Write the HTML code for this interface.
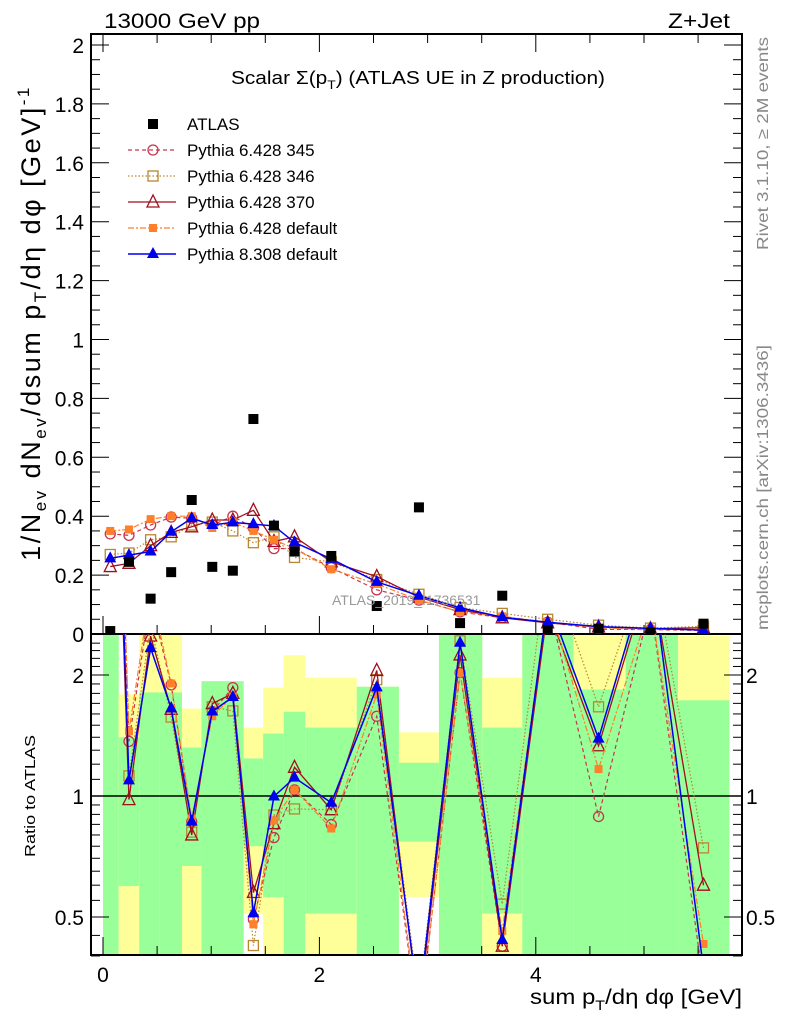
<!DOCTYPE html>
<html><head><meta charset="utf-8"><style>
html,body{margin:0;padding:0;background:#fff;}
svg{display:block;font-family:"Liberation Sans",sans-serif;}
</style></head><body>
<svg id="chart" width="786" height="1024" viewBox="0 0 786 1024" xmlns="http://www.w3.org/2000/svg">
<defs>
<clipPath id="clipMain"><rect x="91" y="34" width="651" height="600"/></clipPath>
<clipPath id="clipRatio"><rect x="91" y="634" width="651" height="321"/></clipPath>
</defs>
<g id="bands" clip-path="url(#clipRatio)"></g>
<g id="axes"></g>
<g id="seriesMain" clip-path="url(#clipMain)"></g>
<g id="seriesRatio" clip-path="url(#clipRatio)"></g>
<text x="104" y="28" font-size="21" textLength="156" lengthAdjust="spacingAndGlyphs">13000 GeV pp</text>
<text x="730" y="28" font-size="21" text-anchor="end" textLength="62" lengthAdjust="spacingAndGlyphs">Z+Jet</text>
<text x="231" y="84" font-size="18" textLength="374" lengthAdjust="spacingAndGlyphs">Scalar Σ(p<tspan font-size="12" dy="5">T</tspan><tspan dy="-5">) (ATLAS UE in Z production)</tspan></text>
<text x="332" y="605" font-size="14" fill="#999">ATLAS_2019_I1736531</text>
<text transform="translate(768,250) rotate(-90)" font-size="16" fill="#888" textLength="213" lengthAdjust="spacingAndGlyphs">Rivet 3.1.10, ≥ 2M events</text>
<text transform="translate(768,630) rotate(-90)" font-size="16" fill="#888" textLength="285" lengthAdjust="spacingAndGlyphs">mcplots.cern.ch [arXiv:1306.3436]</text>
<text transform="translate(40,323) rotate(-90)" font-size="27" text-anchor="middle" style="letter-spacing:2.5px">1/N<tspan font-size="17" dy="6">ev</tspan><tspan dy="-6"> dN</tspan><tspan font-size="17" dy="6">ev</tspan><tspan dy="-6">/dsum p</tspan><tspan font-size="17" dy="6">T</tspan><tspan dy="-6">/dη dφ  [GeV]</tspan><tspan font-size="17" dy="-11">-1</tspan></text>
<text transform="translate(35,857) rotate(-90)" font-size="15" textLength="122" lengthAdjust="spacingAndGlyphs">Ratio to ATLAS</text>
<text x="742" y="1004" font-size="21" text-anchor="end" textLength="212" lengthAdjust="spacingAndGlyphs">sum p<tspan font-size="14" dy="6">T</tspan><tspan dy="-6">/dη dφ [GeV]</tspan></text>
<g id="legend"></g>
</svg>
<script>
const xs = [0.067,0.24,0.44,0.63,0.82,1.01,1.20,1.39,1.58,1.77,2.11,2.53,2.92,3.30,3.69,4.11,4.58,5.06,5.55];
const binEdges = [0,0.145,0.335,0.525,0.73,0.91,1.1,1.3,1.48,1.67,1.87,2.345,2.735,3.105,3.505,3.875,4.35,4.83,5.315,5.79];
const atlas = [0.010,0.245,0.12,0.21,0.455,0.228,0.215,0.73,0.368,0.28,0.265,0.095,0.43,0.037,0.13,0.013,0.018,0.005,0.035];
const p345 = [0.34,0.335,0.37,0.397,0.393,0.37,0.40,0.36,0.29,0.29,0.225,0.15,0.115,0.075,0.055,0.04,0.016,0.015,0.012];
const p346 = [0.27,0.275,0.32,0.33,0.37,0.38,0.35,0.31,0.33,0.26,0.245,0.185,0.135,0.09,0.07,0.05,0.03,0.02,0.026];
const p370 = [0.229,0.24,0.30,0.345,0.364,0.387,0.387,0.42,0.314,0.33,0.245,0.195,0.125,0.083,0.055,0.038,0.024,0.018,0.021];
const pdef6 = [0.35,0.355,0.39,0.40,0.40,0.36,0.38,0.35,0.32,0.29,0.22,0.17,0.115,0.075,0.06,0.04,0.021,0.015,0.015];
const p8 = [0.257,0.268,0.28,0.347,0.393,0.37,0.379,0.373,0.367,0.311,0.255,0.177,0.13,0.089,0.057,0.040,0.025,0.019,0.013];
const yelTop = [3,1.79,3,3,1.65,1.93,1.93,1.48,1.86,2.24,1.97,1.87,1.44,3,1.97,3,3,3,2.5];
const grnTop = [3,1.40,1.81,1.81,1.32,1.93,1.93,1.24,1.43,1.62,1.48,1.87,1.21,3,1.48,3,1.84,3,1.73];
const grnBot = [0.3,0.597,0.3,0.3,0.67,0.3,0.3,0.75,0.56,0.3,0.51,0.3,0.77,0.3,0.51,0.3,0.3,0.3,0.3];
const yelBot = [0.3,0.3,0.3,0.3,0.3,0.3,0.3,0.51,0.3,0.3,0.3,0.3,0.56,0.3,0.3,0.3,0.3,0.3,0.3];
const mainTicks = [0,0.2,0.4,0.6,0.8,1,1.2,1.4,1.6,1.8,2];
const mainTickLabels = ["0","0.2","0.4","0.6","0.8","1","1.2","1.4","1.6","1.8","2"];
const xTickLabels = ["0","2","4"];
const xTickVals = [0,2,4];
const ratioTickVals = [0.5,1,2];
const ratioTickLabels = ["0.5","1","2"];

const NS="http://www.w3.org/2000/svg";
const X = v => 103 + v*108.2;
const Y = v => 634 - v*294.5;
const R = r => 796 - Math.log10(r)*402;
function mk(tag, attrs, parent){const e=document.createElementNS(NS,tag);for(const k in attrs)e.setAttribute(k,attrs[k]);parent.appendChild(e);return e;}

const bands=document.getElementById('bands');
for(let i=0;i<xs.length;i++){
  const x0=X(binEdges[i]), w=X(binEdges[i+1])-x0;
  const y1=mk('rect',{x:x0,y:R(yelTop[i]),width:w,height:R(yelBot[i])-R(yelTop[i]),fill:'#ffff99'},bands);
  
  
  const g1=mk('rect',{x:x0,y:R(grnTop[i]),width:w,height:R(grnBot[i])-R(grnTop[i]),fill:'#99ff99'},bands);
  
  
}

const ax=document.getElementById('axes');
const fr1=mk('rect',{x:91,y:34,width:651,height:600,fill:'none',stroke:'#000','stroke-width':2},ax);


const fr2=mk('rect',{x:91,y:634,width:651,height:321,fill:'none',stroke:'#000','stroke-width':2},ax);


const one=mk('line',{x1:91,x2:742,y1:R(1),y2:R(1),stroke:'#000','stroke-width':1.5},ax);


for(let v=0;v<=2.0001;v+=0.05){
  const major=Math.abs(v*5-Math.round(v*5))<1e-6;
  const L=major?18:9;
  mk('line',{x1:91,x2:91+L,y1:Y(v),y2:Y(v),stroke:'#000','stroke-width':1},ax);
  mk('line',{x1:742,x2:742-L,y1:Y(v),y2:Y(v),stroke:'#000','stroke-width':1},ax);
}
mainTicks.forEach((v,i)=>{const t=mk('text',{x:84,y:Y(v)+8,'font-size':21,'text-anchor':'end'},ax);t.textContent=mainTickLabels[i];

});
for(let v=0;v<=5.8;v+=0.5){
  const major=Math.abs(v%2)<1e-6;
  const L=major?18:9;
  mk('line',{x1:X(v),x2:X(v),y1:34,y2:34+L,stroke:'#000'},ax);
  mk('line',{x1:X(v),x2:X(v),y1:634,y2:634-L,stroke:'#000'},ax);
  mk('line',{x1:X(v),x2:X(v),y1:955,y2:955-L,stroke:'#000'},ax);
}
xTickVals.forEach((v,i)=>{const t=mk('text',{x:X(v),y:982,'font-size':21,'text-anchor':'middle'},ax);t.textContent=xTickLabels[i];

});
[0.4,0.5,0.6,0.7,0.8,0.9,1,2].forEach(r=>{
  const L=(r===0.5||r===1||r===2)?18:9;
  mk('line',{x1:91,x2:91+L,y1:R(r),y2:R(r),stroke:'#000'},ax);
  mk('line',{x1:742,x2:742-L,y1:R(r),y2:R(r),stroke:'#000'},ax);
});
[1.1,1.2,1.3,1.4,1.5,1.6,1.7,1.8,1.9,2.1,2.2,2.3,2.4,0.45,0.55,0.65,0.75,0.85,0.95].forEach(r=>{
  mk('line',{x1:91,x2:100,y1:R(r),y2:R(r),stroke:'#000'},ax);
  mk('line',{x1:742,x2:733,y1:R(r),y2:R(r),stroke:'#000'},ax);
});
ratioTickVals.forEach((r,i)=>{
  const t=mk('text',{x:84,y:R(r)+8,'font-size':21,'text-anchor':'end'},ax);t.textContent=ratioTickLabels[i];
  
  
  const t2=mk('text',{x:746,y:R(r)+8,'font-size':21},ax);t2.textContent=ratioTickLabels[i];
  
  
});

function marker(g,type,color,x,y){
  let e;
  if(type==='sq') e=mk('rect',{x:x-5,y:y-5,width:10,height:10,fill:color},g);
  else if(type==='circ') e=mk('circle',{cx:x,cy:y,r:5,fill:'none',stroke:color,'stroke-width':1.3},g);
  else if(type==='osq') e=mk('rect',{x:x-5,y:y-5,width:10,height:10,fill:'none',stroke:color,'stroke-width':1.3},g);
  else if(type==='otri') e=mk('polygon',{points:`${x},${y-7} ${x-6},${y+5} ${x+6},${y+5}`,fill:'none',stroke:color,'stroke-width':1.3},g);
  else if(type==='fsq') e=mk('rect',{x:x-4,y:y-4,width:8,height:8,fill:color},g);
  else if(type==='ftri') e=mk('polygon',{points:`${x},${y-7} ${x-6},${y+4} ${x+6},${y+4}`,fill:color},g);
  return e;
}
const series=[
  {name:'pythia-6428-345',label:'Pythia 6.428 345',data:p345,color:'#c8344e',m:'circ',dash:'4,3',w:1.2},
  {name:'pythia-6428-346',label:'Pythia 6.428 346',data:p346,color:'#b8862e',m:'osq',dash:'1.5,2',w:1.2},
  {name:'pythia-6428-370',label:'Pythia 6.428 370',data:p370,color:'#a00f1e',m:'otri',dash:'',w:1.3},
  {name:'pythia-6428-default',label:'Pythia 6.428 default',data:pdef6,color:'#ff7f2a',m:'fsq',dash:'6,2,2,2',w:1.2},
  {name:'pythia-8308-default',label:'Pythia 8.308 default',data:p8,color:'#0000ee',m:'ftri',dash:'',w:1.5}
];
const gm=document.getElementById('seriesMain'), gr=document.getElementById('seriesRatio');
series.forEach(s=>{
  const g=mk('g',{},gm);
  
  
  mk('polyline',{points:xs.map((x,i)=>X(x)+','+Y(s.data[i])).join(' '),fill:'none',stroke:s.color,'stroke-width':s.w,'stroke-dasharray':s.dash},g);
  xs.forEach((x,i)=>{const e=marker(g,s.m,s.color,X(x),Y(s.data[i]));
    
    });
  const h=mk('g',{},gr);
  
  
  const rv=xs.map((x,i)=>s.data[i]/atlas[i]);
  mk('polyline',{points:xs.map((x,i)=>X(x)+','+R(rv[i])).join(' '),fill:'none',stroke:s.color,'stroke-width':s.w,'stroke-dasharray':s.dash},h);
  xs.forEach((x,i)=>{const e=marker(h,s.m,s.color,X(x),R(rv[i]));
    
    });
});
xs.forEach((x,i)=>{const e=marker(gm,'sq','#000',X(x),Y(atlas[i]));
  
  });

const lg=document.getElementById('legend');
const rows=[{label:'ATLAS',m:'sq',color:'#000',dash:null}].concat(series);
rows.forEach((s,i)=>{
  const y=124+i*26;
  const g=mk('g',{},lg);
  
  
  if(s.dash!==null&&s.dash!==undefined) mk('line',{x1:128,x2:176,y1:y,y2:y,stroke:s.color,'stroke-width':s.w,'stroke-dasharray':s.dash},g);
  marker(g,s.m,s.color,153,y);
  const t=mk('text',{x:187,y:y+6,'font-size':17},g);t.textContent=s.label;
});
</script>
</body></html>
